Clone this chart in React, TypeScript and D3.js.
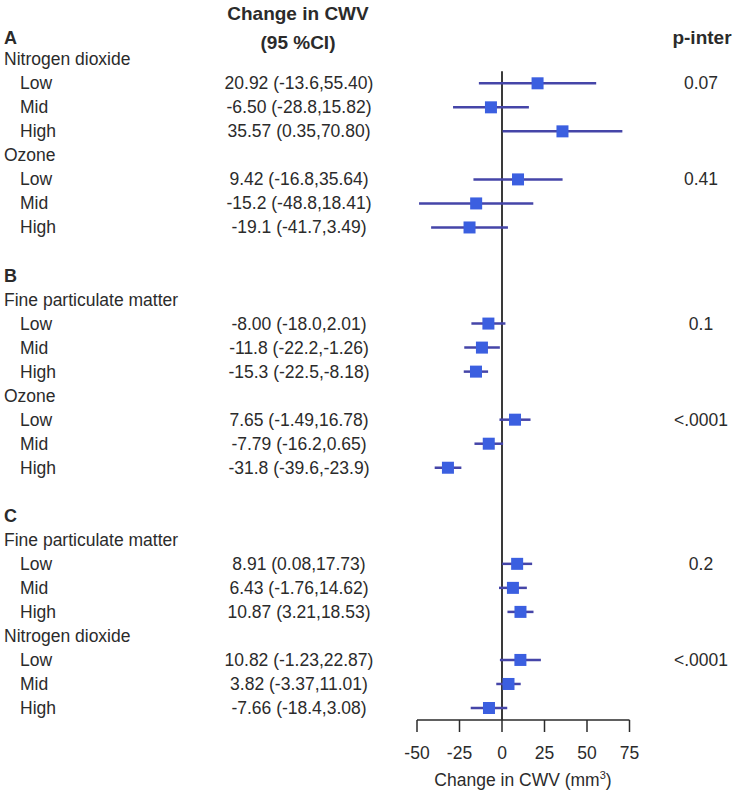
import React from "react";
import * as d3 from "d3";

const sections = ["A", "B", "C"];
const exposures = [
  ["Nitrogen dioxide", "Ozone"],
  ["Fine particulate matter", "Ozone"],
  ["Fine particulate matter", "Nitrogen dioxide"],
];
const levels = ["Low", "Mid", "High"];
const estimates = [20.92, -6.5, 35.57, 9.42, -15.2, -19.1, -8.0, -11.8, -15.3, 7.65, -7.79, -31.8, 8.91, 6.43, 10.87, 10.82, 3.82, -7.66];
const lowerCI = [-13.6, -28.8, 0.35, -16.8, -48.8, -41.7, -18.0, -22.2, -22.5, -1.49, -16.2, -39.6, 0.08, -1.76, 3.21, -1.23, -3.37, -18.4];
const upperCI = [55.4, 15.82, 70.8, 35.64, 18.41, 3.49, 2.01, -1.26, -8.18, 16.78, 0.65, -23.9, 17.73, 14.62, 18.53, 22.87, 11.01, 3.08];
const ciLabels = [
  "20.92 (-13.6,55.40)", "-6.50 (-28.8,15.82)", "35.57 (0.35,70.80)",
  "9.42 (-16.8,35.64)", "-15.2 (-48.8,18.41)", "-19.1 (-41.7,3.49)",
  "-8.00 (-18.0,2.01)", "-11.8 (-22.2,-1.26)", "-15.3 (-22.5,-8.18)",
  "7.65 (-1.49,16.78)", "-7.79 (-16.2,0.65)", "-31.8 (-39.6,-23.9)",
  "8.91 (0.08,17.73)", "6.43 (-1.76,14.62)", "10.87 (3.21,18.53)",
  "10.82 (-1.23,22.87)", "3.82 (-3.37,11.01)", "-7.66 (-18.4,3.08)",
];
const pInter = ["0.07", "0.41", "0.1", "<.0001", "0.2", "<.0001"];
const xTicks = [-50, -25, 0, 25, 50, 75];

const FONT = "'Liberation Sans', Arial, Helvetica, sans-serif";
const TEXT = "#2b2b2b";

export default function App() {
  const x = d3.scaleLinear().domain([-50, 75]).range([417, 629.5]);
  const rowY = d3.scaleLinear().domain([2, 28]).range([83.3, 708]);

  type Item = { kind: string; text: string; row: number; idx?: number; p?: string };
  const items: Item[] = [];
  let row = 0;
  sections.forEach((s, si) => {
    items.push({ kind: "section", text: s, row });
    row += 1;
    exposures[si].forEach((ex, ei) => {
      items.push({ kind: "exposure", text: ex, row });
      row += 1;
      levels.forEach((lv, li) => {
        const idx = si * 6 + ei * 3 + li;
        items.push({ kind: "level", text: lv, row, idx, p: li === 0 ? pInter[si * 2 + ei] : undefined });
        row += 1;
      });
    });
    row += 1;
  });

  const axisY = 720;
  const fs = 17.5;
  const hfs = 19;

  return (
    <svg width={736} height={794} style={{ position: "absolute", left: 0, top: 0, background: "#fff" }} fontFamily={FONT}>
      <text x={298} y={20} textAnchor="middle" fontWeight="bold" fontSize={hfs} fill={TEXT}>Change in CWV</text>
      <text x={298} y={49} textAnchor="middle" fontWeight="bold" fontSize={hfs} fill={TEXT}>(95 %CI)</text>
      <text x={702} y={44} textAnchor="middle" fontWeight="bold" fontSize={hfs} fill={TEXT}>p-inter</text>

      {/* zero line */}
      <line x1={x(0)} x2={x(0)} y1={rowY(2) - 12} y2={axisY} stroke="#3a3a3a" strokeWidth={2} />

      {items.map((it, i) => {
        const y = it.kind === "section" && it.row === 0 ? 37 : rowY(it.row);
        if (it.kind === "section") {
          return <text key={i} x={4} y={y + 6.5} fontWeight="bold" fontSize={fs + 0.5} fill={TEXT}>{it.text}</text>;
        }
        if (it.kind === "exposure") {
          return <text key={i} x={4} y={y + 6} fontSize={fs} fill={TEXT}>{it.text}</text>;
        }
        const idx = it.idx as number;
        const est = estimates[idx];
        return (
          <g key={i}>
            <text x={20} y={y + 6} fontSize={fs} fill={TEXT}>{it.text}</text>
            <text x={299} y={y + 6} fontSize={fs} fill={TEXT} textAnchor="middle">{ciLabels[idx]}</text>
            {it.p && <text x={701} y={y + 6} fontSize={fs} fill={TEXT} textAnchor="middle">{it.p}</text>}
            <line x1={x(lowerCI[idx])} x2={x(upperCI[idx])} y1={y} y2={y} stroke="#4545a8" strokeWidth={2.5} />
            <rect x={x(est) - 6} y={y - 6} width={12} height={12} fill="#3b5fe0" />
          </g>
        );
      })}

      {/* axis */}
      <line x1={x(-50)} x2={x(75)} y1={axisY} y2={axisY} stroke="#2b2b2b" strokeWidth={1.5} />
      {xTicks.map((t) => (
        <g key={t}>
          <line x1={x(t)} x2={x(t)} y1={axisY} y2={axisY + 12} stroke="#2b2b2b" strokeWidth={1.5} />
          <text x={x(t)} y={759} textAnchor="middle" fontSize={fs} fill={TEXT}>{t}</text>
        </g>
      ))}
      <text x={523} y={786} textAnchor="middle" fontSize={fs} fill={TEXT}>
        Change in CWV (mm<tspan dy={-7} fontSize={11}>3</tspan><tspan dy={7}>)</tspan>
      </text>
    </svg>
  );
}
